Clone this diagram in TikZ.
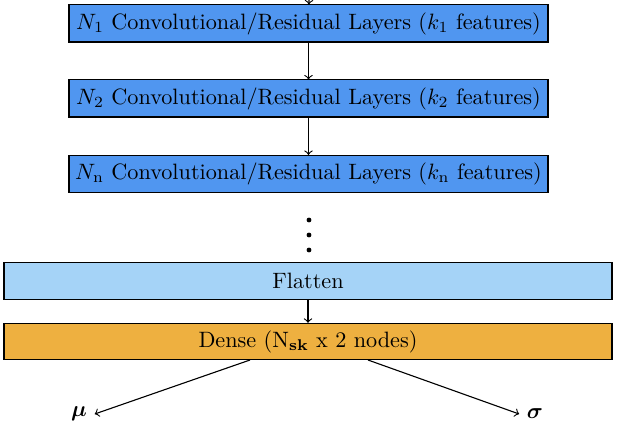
\documentclass[tikz,border=0pt]{standalone}
\usepackage{amsmath,bm}
\definecolor{convblue}{RGB}{80,150,240}
\definecolor{flatblue}{RGB}{165,211,247}
\definecolor{denseorange}{RGB}{238,176,64}
\begin{document}
\begin{tikzpicture}[x=0.45pt,y=-0.45pt,
  conv/.style={draw=black,fill=convblue,minimum width=215.5pt,minimum height=16.7pt,inner sep=0pt,line width=0.5pt},
  wide/.style={draw=black,minimum width=273.6pt,minimum height=16.3pt,inner sep=0pt,line width=0.5pt},
  dotn/.style={circle,fill=black,inner sep=0pt,minimum size=2.2pt},
  arr/.style={->,>=to,line width=0.5pt}]
\useasboundingbox (0,0) rectangle (618,433);
\coordinate (top) at (309,0);
\node[conv] (b1) at (308.5,23.5) {$N_1$ Convolutional/Residual Layers ($k_1$ features)};
\node[conv] (b2) at (308.5,98.5) {$N_2$ Convolutional/Residual Layers ($k_2$ features)};
\node[conv] (b3) at (308.5,174) {$N_{\mathrm{n}}$ Convolutional/Residual Layers ($k_{\mathrm{n}}$ features)};
\node[dotn] (d1) at (309,220) {};
\node[dotn] (d2) at (309,235) {};
\node[dotn] (d3) at (309,250) {};
\node[wide,fill=flatblue] (fl) at (308,281) {Flatten};
\node[wide,fill=denseorange] (de) at (308,341.5) {Dense (N$_{\mathbf{sk}}$ x 2 nodes)};
\node (mu) at (79,414) {$\bm{\mu}$};
\node (sg) at (535,414) {$\bm{\sigma}$};
\draw[arr] (top) -- (b1);
\draw[arr] (b1) -- (b2);
\draw[arr] (b2) -- (b3);
\draw[arr] (fl) -- (de);
\coordinate (dl) at (250,360);
\coordinate (dr) at (368,360);
\draw[arr] (dl) -- (mu.east);
\draw[arr] (dr) -- (sg.west);
\end{tikzpicture}
\end{document}
